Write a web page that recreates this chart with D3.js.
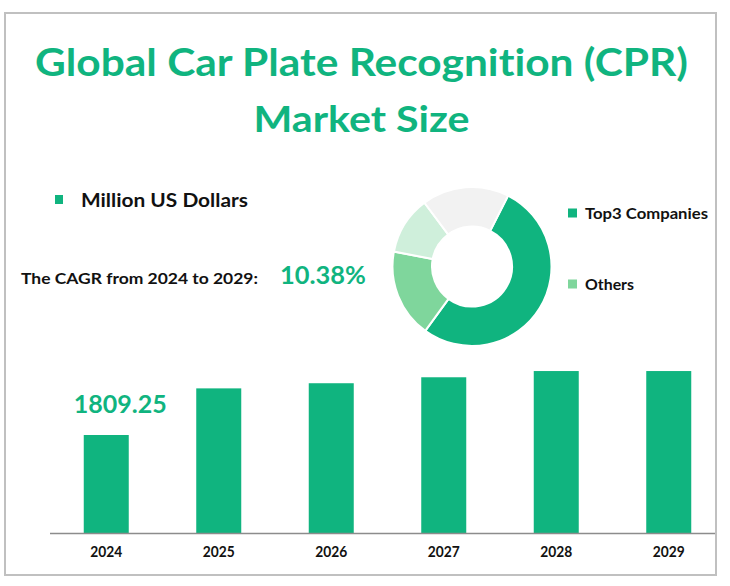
<!DOCTYPE html>
<html>
<head>
<meta charset="utf-8">
<script src="https://cdn.jsdelivr.net/npm/d3@7"></script>
<style>
  html, body { margin: 0; padding: 0; background: #fff; }
  svg { display: block; font-family: Lato, "Open Sans", sans-serif; font-variant-ligatures: none; }
</style>
</head>
<body>
<svg id="chart" width="730" height="586"></svg>
<script>
// ---- data ----
const years = ["2024", "2025", "2026", "2027", "2028", "2029"];
const marketSize = [1809.25, 2670, 2765, 2875, 2990, 2990];
const firstLabel = "1809.25";
const shareNames = ["Top3 Companies", "Others", "Others (b)", "Others (c)"];
const shareValues = [52.5, 18.0, 11.8, 17.7];
const legendNames = ["Top3 Companies", "Others"];
const titleLines = ["Global Car Plate Recognition (CPR)", "Market Size"];
const unitLabel = "Million US Dollars";
const cagrLabel = "The CAGR from 2024 to 2029:";
const cagrValue = "10.38%";

// ---- styles ----
const GREEN = "#10b47f";
const LIGHT = "#7fd69c";
const PALE = "#cfefdb";
const GREY = "#f2f2f2";

const svg = d3.select("#chart");

// frame
svg.append("rect")
  .attr("x", 5).attr("y", 13).attr("width", 711).attr("height", 562)
  .attr("fill", "none").attr("stroke", "#c0c0c0").attr("stroke-width", 2);

// title
const titleG = svg.append("g").attr("fill", GREEN).attr("font-weight", 700)
  .attr("text-anchor", "middle");
titleG.append("text").attr("x", 361.5).attr("y", 76)
  .attr("font-size", 38).attr("textLength", 653).attr("lengthAdjust", "spacingAndGlyphs")
  .text(titleLines[0]);
titleG.append("text").attr("x", 361.5).attr("y", 131.5)
  .attr("font-size", 37).attr("textLength", 216).attr("lengthAdjust", "spacingAndGlyphs")
  .text(titleLines[1]);

// unit legend
svg.append("rect").attr("x", 55).attr("y", 195).attr("width", 8).attr("height", 9).attr("fill", GREEN);
svg.append("text").attr("x", 81).attr("y", 207).attr("font-size", 19).attr("font-weight", 700)
  .attr("fill", "#111").attr("textLength", 167).attr("lengthAdjust", "spacingAndGlyphs")
  .text(unitLabel);

// CAGR
svg.append("text").attr("x", 21).attr("y", 284).attr("font-size", 16).attr("font-weight", 700)
  .attr("fill", "#111").attr("textLength", 237).attr("lengthAdjust", "spacingAndGlyphs")
  .text(cagrLabel);
svg.append("text").attr("x", 280).attr("y", 284).attr("font-size", 24).attr("font-weight", 700)
  .attr("fill", GREEN).attr("textLength", 86).attr("lengthAdjust", "spacingAndGlyphs")
  .text(cagrValue);

// donut
const pieColors = d3.scaleOrdinal().domain(shareNames).range([GREEN, LIGHT, PALE, GREY]);
const pie = d3.pie().sort(null).value(d => d.v)
  .startAngle(27 * Math.PI / 180).endAngle(27 * Math.PI / 180 + 2 * Math.PI);
const arc = d3.arc().innerRadius(40).outerRadius(79.5);
const donut = svg.append("g").attr("transform", "translate(472,266.5)");
donut.selectAll("path")
  .data(pie(shareNames.map((n, i) => ({ n, v: shareValues[i] }))))
  .join("path")
  .attr("d", arc)
  .attr("fill", d => pieColors(d.data.n))
  .attr("stroke", "#fff").attr("stroke-width", 2);

// donut legend
const legY = d3.scalePoint().domain(legendNames).range([213, 284]);
const legW = d3.scaleOrdinal().domain(legendNames).range([123, 49]);
const leg = svg.append("g");
leg.selectAll("rect").data(legendNames).join("rect")
  .attr("x", 568).attr("y", d => legY(d) - 4.5).attr("width", 9).attr("height", 9)
  .attr("fill", d => pieColors(d));
leg.selectAll("text").data(legendNames).join("text")
  .attr("x", 585).attr("y", d => legY(d) + 5.5)
  .attr("font-size", 16).attr("font-weight", 700).attr("fill", "#111")
  .attr("textLength", d => legW(d)).attr("lengthAdjust", "spacingAndGlyphs")
  .text(d => d);

// bars
const x = d3.scaleBand().domain(years).range([50, 725]).paddingInner(0.6).paddingOuter(0.3);
const y = d3.scaleLinear().domain([0, 3000]).range([533, 370.5]);

svg.append("g").selectAll("rect")
  .data(years.map((yr, i) => ({ yr, v: marketSize[i] })))
  .join("rect")
  .attr("x", d => x(d.yr)).attr("width", x.bandwidth())
  .attr("y", d => y(d.v)).attr("height", d => y(0) - y(d.v))
  .attr("fill", GREEN);

// axis
const xAxis = svg.append("g").attr("transform", `translate(0,${y(0)})`)
  .call(d3.axisBottom(x).tickSize(0).tickPadding(13));
xAxis.select(".domain").attr("stroke", "#8c8c8c").attr("stroke-width", 1.3)
  .attr("d", "M50,0.5H715");
xAxis.selectAll("text").attr("font-size", 15).attr("font-weight", 700)
  .attr("fill", "#111").attr("font-family", "Lato, sans-serif")
  .attr("textLength", 32).attr("lengthAdjust", "spacingAndGlyphs");

// value label on first bar
svg.append("text")
  .attr("x", x(years[0]) + x.bandwidth() / 2 + 14).attr("y", y(marketSize[0]) - 22)
  .attr("text-anchor", "middle").attr("font-size", 25).attr("font-weight", 700)
  .attr("fill", GREEN).attr("textLength", 93).attr("lengthAdjust", "spacingAndGlyphs")
  .text(firstLabel);
</script>
</body>
</html>
